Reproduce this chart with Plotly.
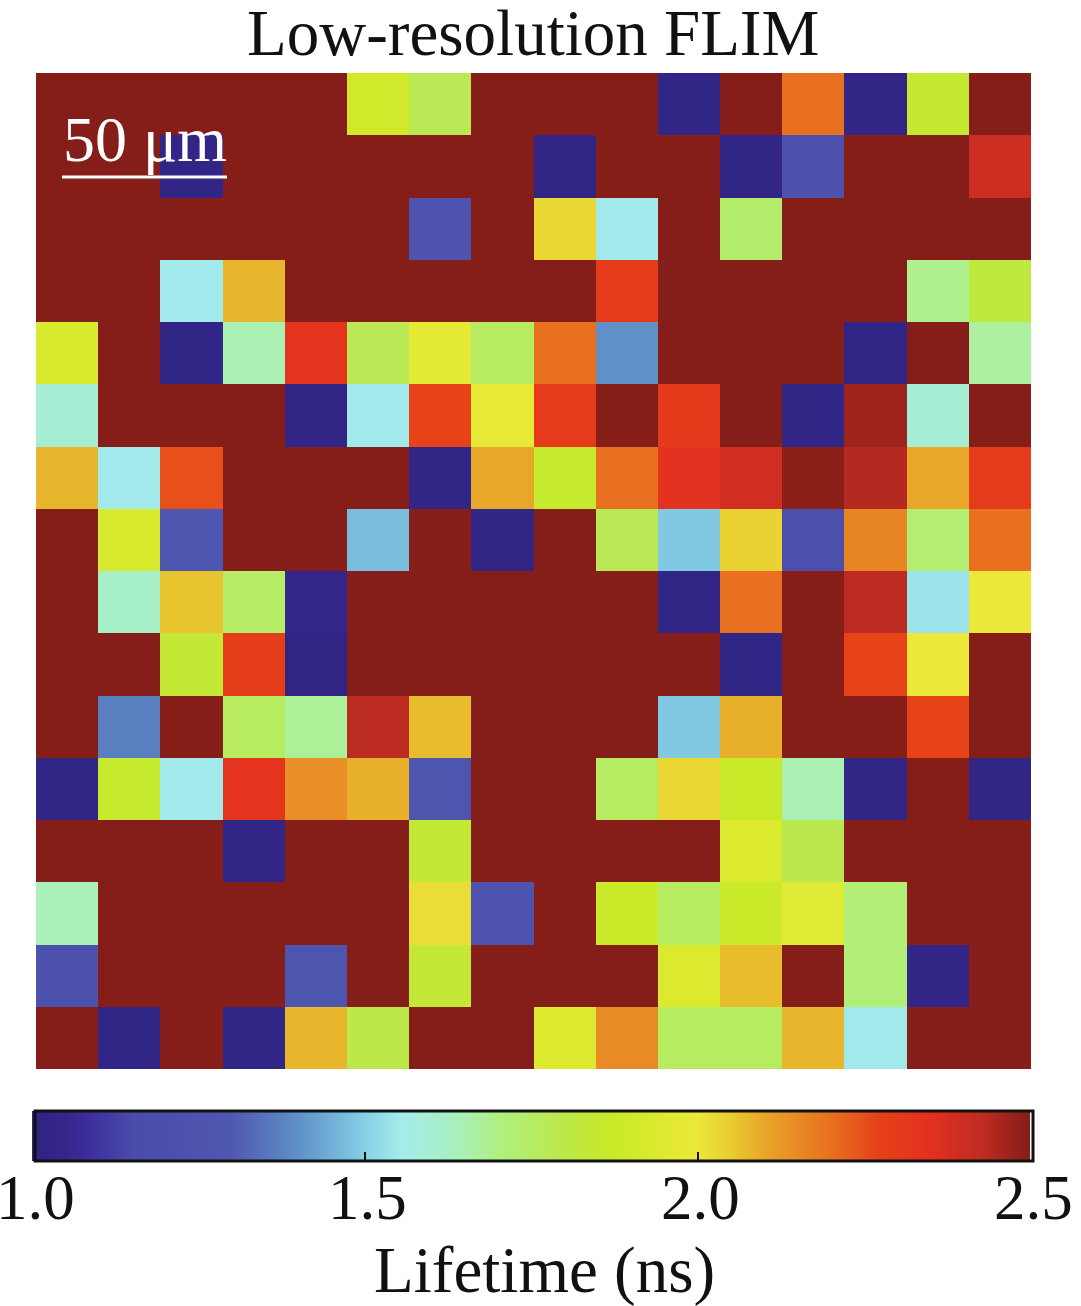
import plotly.graph_objects as go

M = 2.5  # saturated background
B = 1.03  # darkest blue cells

row_00 = [M, M, M, M, M, 1.9, 1.78, M, M, M, B, M, 2.2, B, 1.85, M]
row_01 = [M, M, B, M, M, M, M, M, B, M, M, B, 1.22, M, M, 2.4]
row_02 = [M, M, M, M, M, M, 1.25, M, 2.03, 1.55, M, 1.74, M, M, M, M]
row_03 = [M, M, 1.55, 2.08, M, M, M, M, M, 2.3, M, M, M, M, 1.69, 1.82]
row_04 = [1.93, M, B, 1.65, 2.33, 1.78, 1.97, 1.76, 2.2, 1.4, M, M, M, B, M, 1.67]
row_05 = [1.6, M, M, M, B, 1.55, 2.27, 1.98, 2.3, M, 2.31, M, B, 2.47, 1.6, M]
row_06 = [2.08, 1.55, 2.25, M, M, M, B, 2.1, 1.86, 2.2, 2.34, 2.39, 2.49, 2.44, 2.1, 2.3]
row_07 = [M, 1.93, 1.3, M, M, 1.47, M, B, M, 1.78, 1.49, 2.04, 1.2, 2.16, 1.73, 2.2]
row_08 = [M, 1.62, 2.06, 1.75, 1.05, M, M, M, M, M, B, 2.2, M, 2.43, 1.54, 2.0]
row_09 = [M, M, 1.84, 2.29, 1.02, M, M, M, M, M, M, B, M, 2.27, 2.0, M]
row_10 = [M, 1.37, M, 1.76, 1.68, 2.43, 2.07, M, M, M, 1.49, 2.09, M, M, 2.27, M]
row_11 = [B, 1.86, 1.55, 2.33, 2.14, 2.09, 1.27, M, M, 1.76, 2.03, 1.87, 1.65, B, M, B]
row_12 = [M, M, M, B, M, M, 1.84, M, M, M, M, 1.94, 1.79, M, M, M]
row_13 = [1.64, M, M, M, M, M, 2.02, 1.25, M, 1.87, 1.76, 1.88, 1.96, 1.72, M, M]
row_14 = [1.22, M, M, M, 1.27, M, 1.84, M, M, M, 1.94, 2.07, M, 1.72, B, M]
row_15 = [M, B, M, B, 2.08, 1.8, M, M, 1.94, 2.15, 1.76, 1.76, 2.08, 1.55, M, M]

lifetime = [row_00, row_01, row_02, row_03, row_04, row_05, row_06, row_07,
            row_08, row_09, row_10, row_11, row_12, row_13, row_14, row_15]

tick_vals = [1.0, 1.5, 2.0, 2.5]
tick_text = ["1.0", "1.5", "2.0", "2.5"]

colorscale = [
    [0.00, "#2e2380"], [0.03, "#332688"], [0.05, "#3a2a98"], [0.10, "#4a4aaa"], [0.20, "#4f58b0"],
    [0.267, "#5f90c8"], [0.333, "#85cfe6"], [0.37, "#a4ecea"], [0.42, "#a8f0c4"],
    [0.47, "#aff080"], [0.53, "#bce84c"], [0.58, "#c8ea28"], [0.63, "#dcea30"],
    [0.667, "#ece83a"], [0.70, "#e8cc30"], [0.74, "#e8a028"], [0.80, "#e87020"],
    [0.85, "#e64018"], [0.90, "#e33020"], [0.95, "#c02c22"], [1.00, "#851d18"],
]

W, H = 1081, 1306
FONT = "Liberation Serif"
PX0, PX1, PY0, PY1 = 36, 1031, 73, 1069
BAR0, BAR1 = 35, 1033


def px(x):
    return (x - PX0) / (PX1 - PX0)


def py(y):
    return 1 - (y - PY0) / (PY1 - PY0)


fig = go.Figure(go.Heatmap(
    z=lifetime, zmin=1.0, zmax=2.5, colorscale=colorscale, xgap=0, ygap=0,
    colorbar=dict(
        orientation="h", xref="container", yref="container",
        x=BAR0 / W, xanchor="left", y=1 - 1111 / H, yanchor="top",
        lenmode="pixels", len=BAR1 - BAR0, thickness=50, thicknessmode="pixels",
        xpad=0, ypad=0, outlinecolor="#111", outlinewidth=3,
        tickmode="array", tickvals=tick_vals, ticktext=tick_text,
        ticks="inside", ticklen=10, tickwidth=2, tickcolor="#111",
        showticklabels=False,
    ),
))

tick_annotations = [
    dict(text=t, xref="paper", yref="paper",
         x=px(BAR0 + (v - 1.0) / 1.5 * (BAR1 - BAR0)), y=py(1198),
         xanchor="center", yanchor="middle", showarrow=False,
         font=dict(family=FONT, size=63, color="#111"))
    for v, t in zip(tick_vals, tick_text)
]

fig.update_layout(
    width=W, height=H, paper_bgcolor="white", plot_bgcolor="white",
    margin=dict(l=PX0, r=W - PX1, t=PY0, b=H - PY1),
    xaxis=dict(visible=False, range=[-0.5, 15.5]),
    yaxis=dict(visible=False, range=[15.5, -0.5]),
    annotations=[
        dict(text="Low-resolution FLIM", xref="paper", yref="paper", x=px(533),
             y=py(33), xanchor="center", yanchor="middle", showarrow=False,
             font=dict(family=FONT, size=65, color="#111")),
        dict(text="50 μm", xref="paper", yref="paper", x=px(145),
             y=py(139), xanchor="center", yanchor="middle", showarrow=False,
             font=dict(family=FONT, size=64, color="white")),
        dict(text="Lifetime (ns)", xref="paper", yref="paper", x=px(544),
             y=py(1270), xanchor="center", yanchor="middle", showarrow=False,
             font=dict(family=FONT, size=65, color="#111")),
    ] + tick_annotations,
    shapes=[dict(type="line", xref="paper", yref="paper", x0=px(62), x1=px(227),
                 y0=py(177), y1=py(177), line=dict(color="white", width=3))],
)

fig.write_html("out.html", config={"displayModeBar": False},
               post_script="document.body.style.margin='0';document.documentElement.style.overflow='hidden';")
